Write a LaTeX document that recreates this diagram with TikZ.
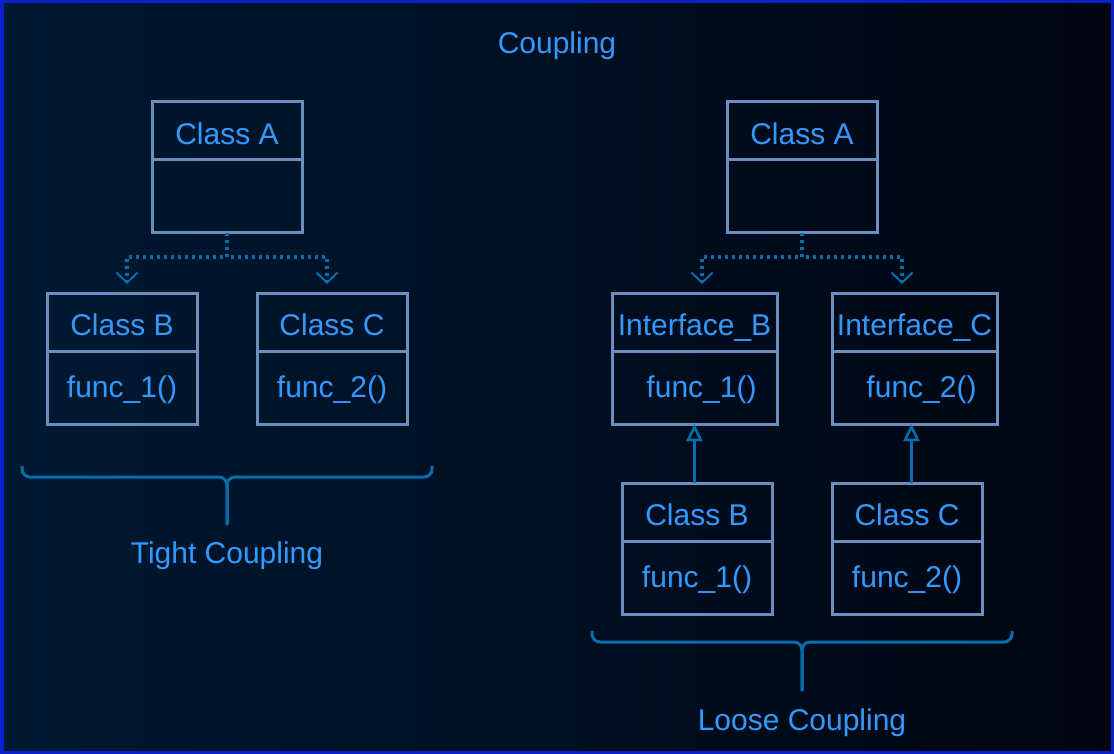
\documentclass[tikz,border=0pt]{standalone}
\usepackage{fontspec}
\setmainfont{Liberation Sans}
\usetikzlibrary{arrows.meta, positioning, calc}
\definecolor{BgLeft}{RGB}{0,25,50}
\definecolor{BgRight}{RGB}{0,5,16}
\definecolor{FrameBlue}{RGB}{10,32,204}
\definecolor{TextBlue}{RGB}{51,153,255}
\definecolor{BoxBlue}{RGB}{108,142,191}
\definecolor{LinkBlue}{RGB}{0,110,175}

\tikzset{
    hdr/.style={draw=BoxBlue, line width=3pt, minimum height=58pt, inner sep=0pt, outer sep=0pt, text=TextBlue, text height=27pt, text depth=0pt},
    body/.style={draw=BoxBlue, line width=3pt, minimum height=73pt, inner sep=0pt, outer sep=0pt, text=TextBlue, anchor=north, text height=19.5pt, text depth=0pt},
    dep/.style={draw=LinkBlue, line width=3.2pt, dash pattern=on 3pt off 4pt, -{Straight Barb[length=10pt, width=21pt, line width=2pt]}},
    inh/.style={draw=LinkBlue, line width=3pt, -{Triangle[open, length=17pt, width=16pt, line width=2.5pt]}},
    brace/.style={draw=LinkBlue, line width=3pt, rounded corners=8pt},
    lbl/.style={text=TextBlue, inner sep=0pt, text height=21pt, text depth=0pt}
}

\begin{document}
\begin{tikzpicture}[x=1pt, y=-1pt, font=\fontsize{30}{35}\selectfont]
    \useasboundingbox (0,0) rectangle (1114,754);
    \fill[left color=BgLeft, right color=BgRight] (0,0) rectangle (1114,754);
    \draw[FrameBlue, line width=3.5pt] (1.75,1.75) rectangle (1112.25,752.25);

    \node[lbl] (title) at (557,43) {Coupling};

    % tight coupling
    \node[hdr, minimum width=150pt] (aL) at (227,131) {Class A};
    \node[body, minimum width=150pt] (aLb) at (aL.south) {};
    \node[hdr, minimum width=150pt] (bL) at (122,322) {Class B};
    \node[body, minimum width=150pt] (bLb) at (bL.south) {func\_1()};
    \node[hdr, minimum width=150pt] (cL) at (332,322) {Class C};
    \node[body, minimum width=150pt] (cLb) at (cL.south) {func\_2()};
    \draw[dep] (aLb.south) -- ++(0,24) -| ([xshift=5pt, yshift=9pt]bL.north);
    \draw[dep] (aLb.south) -- ++(0,24) -| ([xshift=-5pt, yshift=9pt]cL.north);

    \coordinate (tb) at (227,477);
    \draw[brace] (22,466) |- (tb) -- (227,525);
    \draw[brace] (432,466) |- (tb) -- (227,525);
    \node[lbl] (tight) at (227,553) {Tight Coupling};

    % loose coupling
    \node[hdr, minimum width=150pt] (aR) at (802,131) {Class A};
    \node[body, minimum width=150pt] (aRb) at (aR.south) {};
    \node[hdr, minimum width=165pt] (iB) at (694.5,322) {Interface\_B};
    \node[body, minimum width=165pt] (iBb) at (iB.south) {\hspace{14pt}func\_1()};
    \node[hdr, minimum width=165pt] (iC) at (914.5,322) {Interface\_C};
    \node[body, minimum width=165pt] (iCb) at (iC.south) {\hspace{14pt}func\_2()};
    \node[hdr, minimum width=150pt] (bR) at (697,512) {Class B};
    \node[body, minimum width=150pt] (bRb) at (bR.south) {func\_1()};
    \node[hdr, minimum width=150pt] (cR) at (907,512) {Class C};
    \node[body, minimum width=150pt] (cRb) at (cR.south) {func\_2()};
    \draw[dep] (aRb.south) -- ++(0,24) -| ([xshift=7.5pt, yshift=9pt]iB.north);
    \draw[dep] (aRb.south) -- ++(0,24) -| ([xshift=-12.5pt, yshift=9pt]iC.north);
    \draw[inh] (iBb.south |- bR.north) -- (iBb.south);
    \draw[inh] ([xshift=-3pt]iCb.south |- cR.north) -- ([xshift=-3pt]iCb.south);

    \coordinate (lb) at (802,642);
    \draw[brace] (592,631) |- (lb) -- (802,691);
    \draw[brace] (1012,631) |- (lb) -- (802,691);
    \node[lbl] (loose) at (802,720) {Loose Coupling};
\end{tikzpicture}
\end{document}
